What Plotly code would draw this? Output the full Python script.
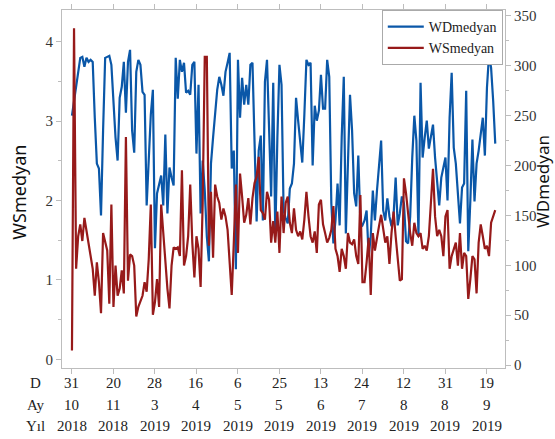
import plotly.graph_objects as go

# ---- data ----
ws_medyan = [
    0.11, 4.17, 1.14, 1.55, 1.70, 1.49, 1.78, 1.63, 1.49, 1.30, 1.14, 0.80, 1.22, 0.97, 0.58, 1.59, 1.47, 1.37, 0.70, 1.95,
    0.66, 1.18, 0.80, 0.89, 1.12, 0.83, 2.80, 0.99, 1.32,
    1.30, 1.18, 0.54, 0.66, 0.72, 0.80, 0.97, 0.85, 1.26, 1.95, 0.56, 0.72, 1.01, 0.66, 1.95, 1.55, 1.22, 0.89, 0.64, 1.18,
    1.41, 1.39, 1.41, 1.30, 2.38, 1.18, 1.30, 1.55, 2.20, 1.47, 1.03, 1.55, 1.39, 0.91, 1.97, 3.81,
    3.81, 1.43, 2.11, 1.28, 2.20, 2.05, 1.97, 1.76, 1.90, 1.80, 1.63, 1.14, 0.81, 1.47, 2.20, 1.34, 2.34, 2.05, 1.72, 1.82,
    2.03, 1.70, 2.03, 2.22, 2.30, 2.55, 1.88, 1.84, 1.76, 2.11, 2.01, 1.47, 1.74, 1.47,
    1.86, 1.34, 2.05, 1.59, 1.97, 2.05, 1.72, 1.59, 1.90, 1.63, 1.55, 1.61, 1.51, 1.76, 2.11, 1.80, 1.55, 1.47, 1.61, 1.34,
    1.95, 2.01, 1.70, 1.59, 1.47, 1.53, 1.63, 1.93, 1.39, 1.30, 1.10, 1.39, 1.30, 1.14, 1.59, 1.47,
    1.45, 1.51, 1.30, 1.20, 2.07, 0.97, 0.97, 1.22, 1.53, 0.81, 1.59, 1.37, 1.55, 1.68, 1.82, 1.63, 1.47, 1.55, 1.20, 1.59,
    1.86, 1.55, 1.30, 0.99, 1.01, 2.28, 2.09, 1.80, 1.59, 1.43, 1.72, 1.59,
    1.55, 1.59, 1.39, 1.43, 1.37, 1.55, 1.97, 2.40, 1.80, 1.55, 1.63, 1.55, 1.30, 1.80, 1.88, 1.14, 1.30, 1.39, 1.47, 1.18,
    1.59, 1.14, 1.34, 1.30, 0.76, 1.01, 1.30, 1.26, 0.83, 1.47, 1.70, 1.55, 1.39, 1.43, 1.30, 1.72, 1.80, 1.88,
]

wd_medyan = [
    250, 265, 278, 294, 308, 309, 299, 308, 304, 306, 304, 248, 202, 197, 150, 235, 308, 309, 310, 301,
    261, 228, 205, 268, 279, 304, 253, 304, 316, 235, 213,
    294, 306, 301, 274, 271, 160, 212, 251, 276, 117, 172, 180, 190, 160, 231, 152, 198, 188, 180, 308,
    267, 306, 294, 303, 273, 275, 271, 301, 304, 212, 281, 152, 205,
    175, 129, 104, 202, 228, 255, 276, 289, 281, 270, 294, 303, 313, 197, 215, 96, 306, 248, 288, 261,
    281, 261, 301, 303, 222, 144, 215, 230, 145, 284, 306, 231, 169, 283, 129,
    228, 301, 281, 155, 147, 142, 177, 182, 202, 268, 245, 222, 203, 251, 306, 301, 303, 200, 260, 245,
    255, 291, 257, 257, 306, 289, 162, 122, 145, 182, 140, 228, 289,
    132, 205, 271, 235, 172, 159, 210, 142, 140, 145, 155, 109, 129, 175, 145, 175, 202, 225, 155, 145,
    167, 149, 139, 150, 188, 140, 152, 169, 162, 124, 122, 149, 208, 250, 225, 129,
    283, 208, 228, 245, 217, 230, 241, 208, 182, 160, 188, 197, 208, 165, 248, 293, 218, 202, 169, 142,
    178, 182, 275, 114, 165, 226, 164, 202, 215, 231, 248, 210, 278, 311, 298, 265, 222,
]

tick_step = 20
tick_day = ["31", "20", "28", "16", "6", "25", "13", "24", "12", "31", "19"]
tick_month = ["10", "11", "3", "4", "5", "5", "6", "7", "8", "8", "9"]
tick_year = ["2018", "2018", "2019", "2019", "2019", "2019", "2019", "2019", "2019", "2019", "2019"]
row_names = ["D", "Ay", "Yıl"]

n = min(len(ws_medyan), len(wd_medyan))
idx = list(range(n))
tickvals = [i * tick_step for i in range(len(tick_day))]

BLUE = "#0a57a8"
RED = "#971a1a"
SERIF = "Liberation Serif, Times New Roman, DejaVu Serif, serif"
SANS = "Noto Sans, Open Sans, sans-serif"
AX = "#bdbdbd"

fig = go.Figure()
fig.add_trace(go.Scatter(x=idx, y=wd_medyan[:n], name="WDmedyan", mode="lines",
                         line=dict(color=BLUE, width=2.2), yaxis="y"))
fig.add_trace(go.Scatter(x=idx, y=ws_medyan[:n], name="WSmedyan", mode="lines",
                         line=dict(color=RED, width=2.2), yaxis="y2"))

annotations = []
rows = [tick_day, tick_month, tick_year]
row_y = [-0.041, -0.102, -0.163]
for r, (labels, yy) in enumerate(zip(rows, row_y)):
    annotations.append(dict(text=row_names[r], x=-0.059, xref="paper", y=yy, yref="paper",
                            showarrow=False, xanchor="center", yanchor="middle",
                            font=dict(family=SERIF, size=15, color="#222")))
    for tv, lab in zip(tickvals, labels):
        annotations.append(dict(text=lab, x=tv, xref="x", y=yy, yref="paper",
                                showarrow=False, xanchor="center", yanchor="middle",
                                font=dict(family=SERIF, size=15, color="#222")))

annotations.append(dict(text="WSmedyan", x=-0.099, xref="paper", y=0.49, yref="paper",
                        textangle=-90, showarrow=False, xanchor="center", yanchor="middle",
                        font=dict(family=SANS, size=18, color="#111")))
annotations.append(dict(text="WDmedyan", x=1.086, xref="paper", y=0.52, yref="paper",
                        textangle=-90, showarrow=False, xanchor="center", yanchor="middle",
                        font=dict(family=SANS, size=17, color="#111")))

fig.update_layout(
    width=555, height=439,
    margin=dict(l=62, r=50, t=4, b=71),
    paper_bgcolor="white", plot_bgcolor="white",
    font=dict(family=SERIF),
    showlegend=True,
    legend=dict(x=0.995, xanchor="right", y=1.0, yanchor="top",
                bgcolor="white", bordercolor="#aaaaaa", borderwidth=1,
                font=dict(family=SERIF, size=14, color="#222"),
                tracegroupgap=0, itemwidth=36),
    xaxis=dict(range=[-4.8, 208.7], tickvals=tickvals, showticklabels=False,
               ticks="outside", ticklen=5, tickcolor=AX, showline=True, linecolor=AX,
               mirror="ticks", showgrid=False, zeroline=False),
    yaxis=dict(range=[-3, 356], side="right", dtick=50, tick0=0,
               ticks="outside", ticklen=5, tickcolor=AX, showline=True, linecolor=AX,
               showgrid=False, zeroline=False,
               tickfont=dict(family=SERIF, size=15, color="#333"),
               minor=dict(dtick=25, ticks="outside", ticklen=3, tickcolor=AX)),
    yaxis2=dict(range=[-0.11, 4.40], side="left", overlaying="y", dtick=1, tick0=0,
                ticks="outside", ticklen=5, tickcolor=AX, showline=True, linecolor=AX,
                showgrid=False, zeroline=False,
                tickfont=dict(family=SERIF, size=15, color="#333"),
                minor=dict(dtick=0.5, ticks="outside", ticklen=3, tickcolor=AX)),
    annotations=annotations,
)

fig.write_html("out.html")
